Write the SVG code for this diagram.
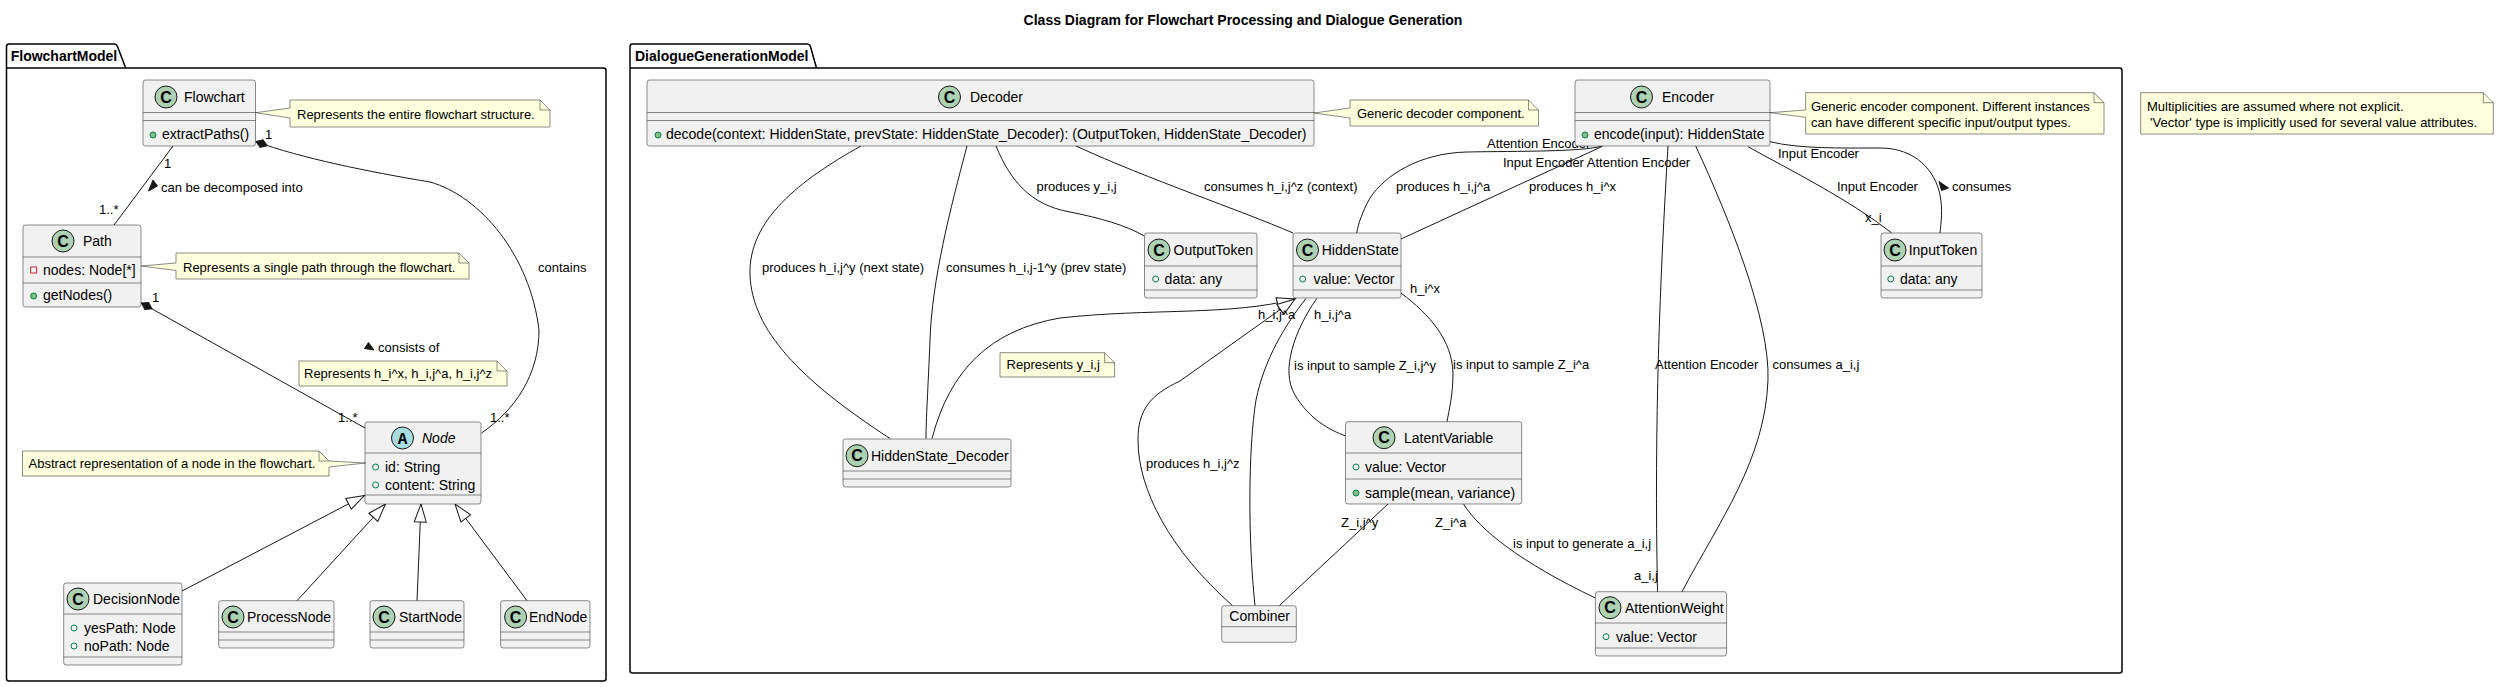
<svg xmlns="http://www.w3.org/2000/svg" width="2499" height="687" viewBox="0 0 2499 687">
<defs>
<style>
.pkg{fill:none;stroke:#000000;stroke-width:1.5}
.pkgt{font-family:"Liberation Sans",Arial,sans-serif;font-size:14px;font-weight:bold}
.title{font-family:"Liberation Sans",Arial,sans-serif;font-size:14px;font-weight:bold;text-anchor:middle}
.box{fill:#F1F1F1;stroke:#181818;stroke-width:0.5}
.sep{stroke:#181818;stroke-width:0.5}
.ci{fill:#ADD1B2;stroke:#181818;stroke-width:1}
.ca{fill:#A9DCDF;stroke:#181818;stroke-width:1}
.cl{font-family:"Liberation Sans",Arial,sans-serif;font-size:16px;font-weight:bold;text-anchor:middle;fill:#000}
.al{font-family:"Liberation Mono","Courier New",monospace;font-size:16px;font-weight:bold;text-anchor:middle;fill:#000}
.n{font-family:"Liberation Sans",Arial,sans-serif;font-size:14px;fill:#000}
.f{fill:none;stroke:#038048;stroke-width:1}
.m{fill:#84BE84;stroke:#038048;stroke-width:1}
.p{fill:none;stroke:#C82930;stroke-width:1}
.note{fill:#FEFFDD;stroke:#181818;stroke-width:0.5}
.fold{fill:none;stroke:#181818;stroke-width:0.5}
.nt{font-family:"Liberation Sans",Arial,sans-serif;font-size:13px;fill:#000}
.e{fill:none;stroke:#181818;stroke-width:1}
.lbl{font-family:"Liberation Sans",Arial,sans-serif;font-size:13px;fill:#000}
.dir{fill:#181818;stroke:#181818;stroke-width:1}
</style>
<marker id="ext" markerUnits="userSpaceOnUse" markerWidth="20" markerHeight="14" refX="18" refY="6" orient="auto" viewBox="0 0 20 14" style="overflow:visible">
<path d="M0,0 L18,6 L0,12 Z" fill="#FFFFFF" stroke="#181818" stroke-width="1"/>
</marker>
<marker id="comp" markerUnits="userSpaceOnUse" markerWidth="14" markerHeight="10" refX="0" refY="5" orient="auto" viewBox="0 0 14 10" style="overflow:visible">
<path d="M0,5 L6,1 L12,5 L6,9 Z" fill="#181818" stroke="#181818" stroke-width="1"/>
</marker>
</defs>
<rect x="0" y="0" width="2499" height="687" fill="#FFFFFF"/>
<text class="title" x="1243" y="25">Class Diagram for Flowchart Processing and Dialogue Generation</text>

<g id="pkg-FlowchartModel">
<path class="pkg" d="M9,44 L114.5,44 A3,3 0 0 1 117.3,46 L125.7,68 L603.5,68 A2.5,2.5 0 0 1 606,70.5 L606,678.5 A2.5,2.5 0 0 1 603.5,681 L9,681 A2.5,2.5 0 0 1 6.5,678.5 L6.5,46.5 A2.5,2.5 0 0 1 9,44 Z"/>
<line class="pkg" x1="6.5" y1="68" x2="125.7" y2="68"/>
<text class="pkgt" x="10.7" y="61">FlowchartModel</text>
</g>

<g id="pkg-DialogueGenerationModel">
<path class="pkg" d="M632.5,44 L807.5,44 A3,3 0 0 1 810.3,46 L816.5,68 L2119.5,68 A2.5,2.5 0 0 1 2122,70.5 L2122,670.5 A2.5,2.5 0 0 1 2119.5,673 L632.5,673 A2.5,2.5 0 0 1 630,670.5 L630,46.5 A2.5,2.5 0 0 1 632.5,44 Z"/>
<line class="pkg" x1="630" y1="68" x2="816.5" y2="68"/>
<text class="pkgt" x="635" y="61">DialogueGenerationModel</text>
</g>

<g id="connectors">
<!-- FlowchartModel -->
<path class="e" d="M173,146 L114,225"/>
<path class="e" marker-start="url(#comp)" d="M256,141.5 C300,158 370,172 430,182 C480,196 530,255 539,330 C539,375 515,410 481.5,433"/>
<path class="e" marker-start="url(#comp)" d="M141.5,303 L365,428"/>
<path class="e" marker-end="url(#ext)" d="M182,591 L364.5,495.5"/>
<path class="e" marker-end="url(#ext)" d="M297,600.7 L385.5,504"/>
<path class="e" marker-end="url(#ext)" d="M417,600.7 L421,504"/>
<path class="e" marker-end="url(#ext)" d="M527,600.7 L455,504"/>
<!-- DialogueGenerationModel -->
<path class="e" d="M861,146 C800,180 748,220 750,275 C752,330 800,380 890,438.5"/>
<path class="e" d="M967,146 C950,210 932,280 930,340 C928,390 926,420 926,438.5"/>
<path class="e" marker-end="url(#ext)" d="M932,438.5 C950,370 990,330 1060,318 C1150,308 1230,316 1295,299"/>
<path class="e" d="M996,146 C1010,180 1030,205 1070,212 C1100,218 1125,225 1144.5,236"/>
<path class="e" d="M1076,146 C1150,180 1240,210 1293,233"/>
<path class="e" marker-end="url(#ext)" d="M1232.5,605.7 C1170,550 1138,490 1138,440 C1138,410 1150,395 1180,381 L1295,299"/>
<path class="e" d="M1255,605.7 C1248,540 1248,450 1256,400 C1264,360 1285,325 1306,298.5"/>
<path class="e" d="M1316.7,298.5 C1295,330 1280,370 1295,395 C1310,420 1330,430 1345.5,436"/>
<path class="e" d="M1401,293 C1430,315 1452,340 1453,373 C1453,395 1449,410 1447,421.7"/>
<path class="e" d="M1388,504 L1279.3,605.7"/>
<path class="e" d="M1463.5,504 C1480,530 1520,562 1595.4,598"/>
<path class="e" d="M1603,146 C1580,152 1520,151 1467,152 C1420,153 1385,175 1370,198 C1362,212 1358,225 1356.7,233"/>
<path class="e" d="M1601,147 L1401,239"/>
<path class="e" d="M1668,146 C1660,280 1654,420 1657.5,591.7"/>
<path class="e" d="M1695.7,146 C1730,220 1770,320 1768,380 C1765,460 1720,520 1682,591.7"/>
<path class="e" d="M1748,146.7 C1790,170 1850,200 1891.7,233"/>
<path class="e" d="M1770,141.7 C1800,149 1840,148 1880,148 C1915,148 1935,170 1940,195 C1943,210 1941,222 1940,233"/>
<!-- direction arrows -->
<polygon class="dir" points="153,180 157.5,186 148.5,191"/>
<polygon class="dir" points="368.5,342.5 374,350 364.5,348.5"/>
<polygon class="dir" points="1939,181.5 1948.5,188 1941.5,190.5"/>
<!-- labels -->
<text class="lbl" x="265" y="139">1</text>
<text class="lbl" x="164" y="168">1</text>
<text class="lbl" x="161" y="191.5">can be decomposed into</text>
<text class="lbl" x="99" y="214">1..*</text>
<text class="lbl" x="538" y="272">contains</text>
<text class="lbl" x="152" y="302">1</text>
<text class="lbl" x="378" y="352">consists of</text>
<text class="lbl" x="338" y="422">1..*</text>
<text class="lbl" x="490" y="422">1..*</text>
<text class="lbl" x="762" y="272">produces h_i,j^y (next state)</text>
<text class="lbl" x="946" y="272">consumes h_i,j-1^y (prev state)</text>
<text class="lbl" x="1036.5" y="191">produces y_i,j</text>
<text class="lbl" x="1204" y="191">consumes h_i,j^z (context)</text>
<text class="lbl" x="1146" y="468">produces h_i,j^z</text>
<text class="lbl" x="1258" y="319">h_i,j^a</text>
<text class="lbl" x="1314" y="319">h_i,j^a</text>
<text class="lbl" x="1410" y="293">h_i^x</text>
<text class="lbl" x="1294" y="370">is input to sample Z_i,j^y</text>
<text class="lbl" x="1453" y="369">is input to sample Z_i^a</text>
<text class="lbl" x="1341" y="527">Z_i,j^y</text>
<text class="lbl" x="1435" y="527">Z_i^a</text>
<text class="lbl" x="1513" y="548">is input to generate a_i,j</text>
<text class="lbl" x="1634" y="580">a_i,j</text>
<text class="lbl" x="1655" y="369">Attention Encoder</text>
<text class="lbl" x="1772.6" y="369">consumes a_i,j</text>
<text class="lbl" x="1487" y="148">Attention Encoder</text>
<text class="lbl" x="1503" y="167">Input Encoder Attention Encoder</text>
<text class="lbl" x="1396" y="191">produces h_i,j^a</text>
<text class="lbl" x="1529" y="191">produces h_i^x</text>
<text class="lbl" x="1778" y="158">Input Encoder</text>
<text class="lbl" x="1837" y="191">Input Encoder</text>
<text class="lbl" x="1865" y="222">x_i</text>
<text class="lbl" x="1952" y="191">consumes</text>
</g>

<g id="Flowchart">
<rect class="box" x="143" y="80" width="112.5" height="66" rx="2.5"/>
<line class="sep" x1="143" y1="112.5" x2="255.5" y2="112.5"/>
<line class="sep" x1="143" y1="120.5" x2="255.5" y2="120.5"/>
<circle class="ci" cx="166" cy="97" r="11"/><text class="cl" x="166" y="102.7">C</text>
<text class="n" x="184" y="102">Flowchart</text>
<circle class="m" cx="153" cy="135" r="3"/>
<text class="n" x="162" y="139">extractPaths()</text>
</g>

<g id="Path">
<rect class="box" x="23" y="225" width="118" height="82" rx="2.5"/>
<line class="sep" x1="23" y1="257" x2="141" y2="257"/>
<line class="sep" x1="23" y1="283" x2="141" y2="283"/>
<circle class="ci" cx="63" cy="241" r="11"/><text class="cl" x="63" y="246.7">C</text>
<text class="n" x="83" y="246">Path</text>
<rect class="p" x="30.6" y="267" width="6" height="6"/>
<text class="n" x="43" y="275">nodes: Node[*]</text>
<circle class="m" cx="33.6" cy="296" r="3"/>
<text class="n" x="43" y="300">getNodes()</text>
</g>

<g id="Node">
<rect class="box" x="365" y="422" width="116" height="82" rx="2.5"/>
<line class="sep" x1="365" y1="453" x2="481" y2="453"/>
<line class="sep" x1="365" y1="495" x2="481" y2="495"/>
<circle class="ca" cx="402.5" cy="438" r="11"/><text class="al" x="402.5" y="443.5">A</text>
<text class="n" x="422" y="443" font-style="italic">Node</text>
<circle class="f" cx="375.6" cy="467" r="3"/>
<text class="n" x="385" y="472">id: String</text>
<circle class="f" cx="375.6" cy="485" r="3"/>
<text class="n" x="385" y="490">content: String</text>
</g>

<g id="DecisionNode">
<rect class="box" x="63.7" y="583" width="118.3" height="82" rx="2.5"/>
<line class="sep" x1="63.7" y1="614" x2="182" y2="614"/>
<line class="sep" x1="63.7" y1="657" x2="182" y2="657"/>
<circle class="ci" cx="78" cy="599" r="11"/><text class="cl" x="78" y="604.7">C</text>
<text class="n" x="93" y="604">DecisionNode</text>
<circle class="f" cx="74" cy="628" r="3"/>
<text class="n" x="84" y="633">yesPath: Node</text>
<circle class="f" cx="74" cy="646" r="3"/>
<text class="n" x="84" y="651">noPath: Node</text>
</g>

<g id="ProcessNode">
<rect class="box" x="218.7" y="600.7" width="115.3" height="47.3" rx="2.5"/>
<line class="sep" x1="218.7" y1="632" x2="334" y2="632"/>
<line class="sep" x1="218.7" y1="640" x2="334" y2="640"/>
<circle class="ci" cx="233" cy="617" r="11"/><text class="cl" x="233" y="622.7">C</text>
<text class="n" x="247" y="622">ProcessNode</text>
</g>

<g id="StartNode">
<rect class="box" x="370" y="600.7" width="94" height="47.3" rx="2.5"/>
<line class="sep" x1="370" y1="632" x2="464" y2="632"/>
<line class="sep" x1="370" y1="640" x2="464" y2="640"/>
<circle class="ci" cx="384" cy="617" r="11"/><text class="cl" x="384" y="622.7">C</text>
<text class="n" x="399" y="622">StartNode</text>
</g>

<g id="EndNode">
<rect class="box" x="500.6" y="600.7" width="89.4" height="47.3" rx="2.5"/>
<line class="sep" x1="500.6" y1="632" x2="590" y2="632"/>
<line class="sep" x1="500.6" y1="640" x2="590" y2="640"/>
<circle class="ci" cx="515.6" cy="617" r="11"/><text class="cl" x="515.6" y="622.7">C</text>
<text class="n" x="529" y="622">EndNode</text>
</g>

<g id="note-flowchart">
<path class="note" d="M290,100 L540,100 L550,110 L550,127 L290,127 L290,118 L255.7,112.7 L290,108 Z"/>
<path class="fold" d="M540,100 L540,110 L550,110"/>
<text class="nt" x="297" y="118.5">Represents the entire flowchart structure.</text>
</g>

<g id="note-path">
<path class="note" d="M176,253 L459,253 L469,263 L469,279 L176,279 L176,270.5 L141.2,266 L176,263 Z"/>
<path class="fold" d="M459,253 L459,263 L469,263"/>
<text class="nt" x="183" y="271.5">Represents a single path through the flowchart.</text>
</g>

<g id="note-hidden">
<path class="note" d="M299,361 L497,361 L507,371 L507,386 L299,386 Z"/>
<path class="fold" d="M497,361 L497,371 L507,371"/>
<text class="nt" x="304" y="378">Represents h_i^x, h_i,j^a, h_i,j^z</text>
</g>

<g id="note-node">
<path class="note" d="M22.5,451 L319,451 L329,461 L365.5,463 L329,467 L329,476 L22.5,476 Z"/>
<path class="fold" d="M319,451 L319,461 L329,461"/>
<text class="nt" x="28.5" y="468">Abstract representation of a node in the flowchart.</text>
</g>

<g id="Decoder">
<rect class="box" x="647" y="80" width="667" height="66" rx="2.5"/>
<line class="sep" x1="647" y1="112.5" x2="1314" y2="112.5"/>
<line class="sep" x1="647" y1="120.5" x2="1314" y2="120.5"/>
<circle class="ci" cx="949.5" cy="97" r="11"/><text class="cl" x="949.5" y="102.7">C</text>
<text class="n" x="970" y="102">Decoder</text>
<circle class="m" cx="658" cy="135" r="3"/>
<text class="n" x="666" y="139">decode(context: HiddenState, prevState: HiddenState_Decoder): (OutputToken, HiddenState_Decoder)</text>
</g>

<g id="Encoder">
<rect class="box" x="1575" y="80" width="195" height="66" rx="2.5"/>
<line class="sep" x1="1575" y1="112.5" x2="1770" y2="112.5"/>
<line class="sep" x1="1575" y1="120.5" x2="1770" y2="120.5"/>
<circle class="ci" cx="1641.5" cy="97" r="11"/><text class="cl" x="1641.5" y="102.7">C</text>
<text class="n" x="1662" y="102">Encoder</text>
<circle class="m" cx="1585" cy="135" r="3"/>
<text class="n" x="1594" y="139">encode(input): HiddenState</text>
</g>

<g id="OutputToken">
<rect class="box" x="1144.5" y="233" width="112.5" height="65" rx="2.5"/>
<line class="sep" x1="1144.5" y1="266" x2="1257" y2="266"/>
<line class="sep" x1="1144.5" y1="290" x2="1257" y2="290"/>
<circle class="ci" cx="1159" cy="250" r="11"/><text class="cl" x="1159" y="255.7">C</text>
<text class="n" x="1173.6" y="255">OutputToken</text>
<circle class="f" cx="1155.7" cy="279" r="3"/>
<text class="n" x="1164.6" y="284">data: any</text>
</g>

<g id="HiddenState">
<rect class="box" x="1293" y="233" width="108" height="65" rx="2.5"/>
<line class="sep" x1="1293" y1="266" x2="1401" y2="266"/>
<line class="sep" x1="1293" y1="290" x2="1401" y2="290"/>
<circle class="ci" cx="1307.5" cy="250" r="11"/><text class="cl" x="1307.5" y="255.7">C</text>
<text class="n" x="1321.7" y="255">HiddenState</text>
<circle class="f" cx="1302.7" cy="279" r="3"/>
<text class="n" x="1313.5" y="284">value: Vector</text>
</g>

<g id="InputToken">
<rect class="box" x="1881" y="233" width="101" height="65" rx="2.5"/>
<line class="sep" x1="1881" y1="266" x2="1982" y2="266"/>
<line class="sep" x1="1881" y1="290" x2="1982" y2="290"/>
<circle class="ci" cx="1895" cy="250" r="11"/><text class="cl" x="1895" y="255.7">C</text>
<text class="n" x="1908.7" y="255">InputToken</text>
<circle class="f" cx="1890.8" cy="279" r="3"/>
<text class="n" x="1900" y="284">data: any</text>
</g>

<g id="HiddenState_Decoder">
<rect class="box" x="843" y="439" width="168" height="48" rx="2.5"/>
<line class="sep" x1="843" y1="471" x2="1011" y2="471"/>
<line class="sep" x1="843" y1="479" x2="1011" y2="479"/>
<circle class="ci" cx="857" cy="455.7" r="11"/><text class="cl" x="857" y="461.4">C</text>
<text class="n" x="871" y="461">HiddenState_Decoder</text>
</g>

<g id="LatentVariable">
<rect class="box" x="1345.5" y="421.7" width="176.2" height="82.3" rx="2.5"/>
<line class="sep" x1="1345.5" y1="453" x2="1521.7" y2="453"/>
<line class="sep" x1="1345.5" y1="479" x2="1521.7" y2="479"/>
<circle class="ci" cx="1384" cy="437.7" r="11"/><text class="cl" x="1384" y="443.4">C</text>
<text class="n" x="1404" y="443">LatentVariable</text>
<circle class="f" cx="1356" cy="467" r="3"/>
<text class="n" x="1365" y="472">value: Vector</text>
<circle class="m" cx="1356" cy="493" r="3"/>
<text class="n" x="1365" y="498">sample(mean, variance)</text>
</g>

<g id="AttentionWeight">
<rect class="box" x="1595.4" y="591.7" width="131.2" height="64.3" rx="2.5"/>
<line class="sep" x1="1595.4" y1="623" x2="1726.6" y2="623"/>
<line class="sep" x1="1595.4" y1="648" x2="1726.6" y2="648"/>
<circle class="ci" cx="1610" cy="607.7" r="11"/><text class="cl" x="1610" y="613.4">C</text>
<text class="n" x="1625" y="613">AttentionWeight</text>
<circle class="f" cx="1606" cy="636.7" r="3"/>
<text class="n" x="1616" y="641.5">value: Vector</text>
</g>

<g id="Combiner">
<rect class="box" x="1221.7" y="605.7" width="74.6" height="36.6" rx="2.5"/>
<line class="sep" x1="1221.7" y1="626.7" x2="1296.3" y2="626.7"/>
<text class="n" x="1229.3" y="621">Combiner</text>
</g>

<g id="note-y">
<path class="note" d="M1000,352.7 L1104.6,352.7 L1114.6,362.7 L1114.6,377 L1000,377 Z"/>
<path class="fold" d="M1104.6,352.7 L1104.6,362.7 L1114.6,362.7"/>
<text class="nt" x="1006.6" y="369">Represents y_i,j</text>
</g>

<g id="note-decoder">
<path class="note" d="M1350,100 L1528.5,100 L1538.5,110 L1538.5,126 L1350,126 L1350,118 L1314,113 L1350,108 Z"/>
<path class="fold" d="M1528.5,100 L1528.5,110 L1538.5,110"/>
<text class="nt" x="1357" y="118">Generic decoder component.</text>
</g>

<g id="note-encoder">
<path class="note" d="M1805.7,92.7 L2094,92.7 L2104,102.7 L2104,134 L1805.7,134 L1805.7,117.3 L1770,112.7 L1805.7,110 Z"/>
<path class="fold" d="M2094,92.7 L2094,102.7 L2104,102.7"/>
<text class="nt" x="1811" y="111">Generic encoder component. Different instances</text>
<text class="nt" x="1811" y="127">can have different specific input/output types.</text>
</g>

<g id="note-general">
<path class="note" d="M2140.7,92.7 L2483.3,92.7 L2493.3,102.7 L2493.3,134 L2140.7,134 Z"/>
<path class="fold" d="M2483.3,92.7 L2483.3,102.7 L2493.3,102.7"/>
<text class="nt" x="2147" y="111">Multiplicities are assumed where not explicit.</text>
<text class="nt" x="2150" y="127">'Vector' type is implicitly used for several value attributes.</text>
</g>
</svg>
